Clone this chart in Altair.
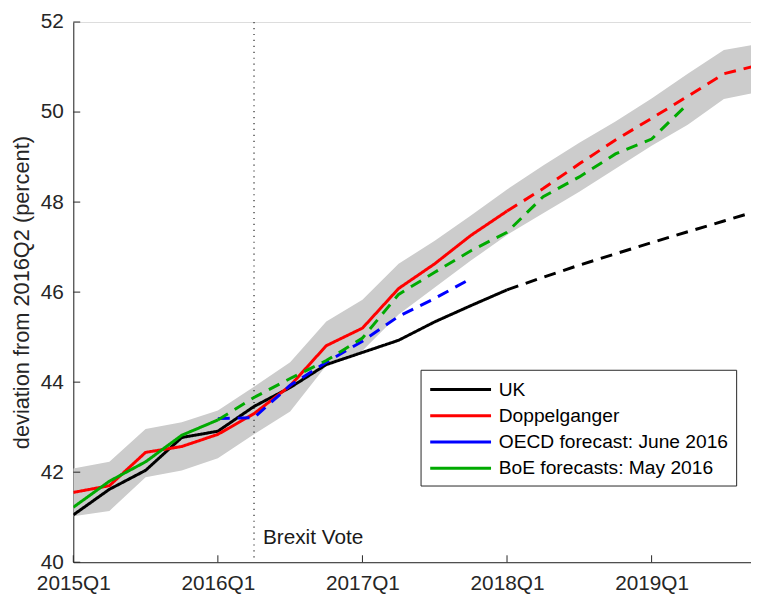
import altair as alt
import pandas as pd

FONT = "Liberation Sans"
AXIS_COLOR = "#262626"

# quarter index: 0 = 2015Q1, 1 = 2015Q2, ...
tick_values = [0, 4, 8, 12, 16]
tick_labels = ["2015Q1", "2016Q1", "2017Q1", "2018Q1", "2019Q1"]
y_ticks = [40, 42, 44, 46, 48, 50, 52]
brexit_q = 5  # 2016Q2

series_names = ["UK", "Doppelganger", "OECD forecast: June 2016", "BoE forecasts: May 2016"]
series_colors = ["#000000", "#ff0000", "#0000ff", "#00aa00"]

# UK: actual (2015Q1..2018Q1) and projection (2018Q1..2019Q4)
uk_actual = [41.05, 41.62, 42.04, 42.77, 42.91, 43.46, 43.88, 44.39, 44.66, 44.93, 45.34, 45.70, 46.05]
uk_proj = [46.05, 46.33, 46.60, 46.85, 47.10, 47.34, 47.58, 47.82]
# Doppelganger
dop_actual = [41.55, 41.70, 42.44, 42.57, 42.84, 43.30, 43.92, 44.81, 45.20, 46.08, 46.63, 47.26, 47.80]
dop_proj = [47.80, 48.30, 48.85, 49.38, 49.86, 50.35, 50.85, 51.05]
# OECD forecast (from 2016Q1)
oecd_fc = [43.19, 43.21, 43.93, 44.44, 44.91, 45.46, 45.86, 46.30]
# BoE: actual to 2016Q1, forecast from 2016Q1 to 2019Q2
boe_actual = [41.22, 41.80, 42.23, 42.82, 43.16]
boe_fc = [43.16, 43.66, 44.08, 44.48, 44.98, 45.95, 46.44, 46.92, 47.33, 48.12, 48.56, 49.07, 49.40, 50.18]

# Confidence band around the doppelganger
band_lo = [41.02, 41.14, 41.89, 42.04, 42.31, 42.84, 43.35, 44.37, 44.70, 45.50,
           46.10, 46.70, 47.27, 47.75, 48.23, 48.74, 49.25, 49.72, 50.29, 50.45]
band_hi = [42.08, 42.23, 42.96, 43.11, 43.37, 43.90, 44.44, 45.35, 45.83, 46.63,
           47.14, 47.70, 48.28, 48.81, 49.32, 49.79, 50.30, 50.85, 51.38, 51.52]

rows = []


def add(name, kind, start, values):
    for k, v in enumerate(values):
        rows.append({"series": name, "kind": kind, "q": start + k, "value": v})


add("UK", "actual", 0, uk_actual)
add("UK", "forecast", 12, uk_proj)
add("Doppelganger", "actual", 0, dop_actual)
add("Doppelganger", "forecast", 12, dop_proj)
add("OECD forecast: June 2016", "forecast", 4, oecd_fc)
add("BoE forecasts: May 2016", "actual", 0, boe_actual)
add("BoE forecasts: May 2016", "forecast", 4, boe_fc)
lines_df = pd.DataFrame(rows)

band_df = pd.DataFrame({"q": list(range(len(band_lo))), "lo": band_lo, "hi": band_hi})

W, H = 685, 546
xscale = alt.Scale(domain=[0, 18.75], nice=False, zero=False)
yscale = alt.Scale(domain=[40, 52], nice=False, zero=False)

label_expr = "[" + ",".join("'%s'" % t for t in tick_labels) + "][round(datum.value/4)]"

xaxis = alt.Axis(values=tick_values, labelExpr=label_expr, ticks=False, tickSize=0,
                 labelPadding=11, labelFontSize=21, labelFont=FONT, labelColor=AXIS_COLOR,
                 labelFlush=False, labelOverlap=False, grid=False, title=None,
                 domainColor=AXIS_COLOR, domainWidth=1)
yaxis = alt.Axis(values=y_ticks, ticks=False, tickSize=0, labelPadding=10, labelFontSize=21,
                 labelFont=FONT, labelColor=AXIS_COLOR, grid=False,
                 title="deviation from 2016Q2 (percent)", titleFont=FONT, titleFontSize=22,
                 titleFontWeight="normal", titleColor=AXIS_COLOR, titlePadding=7,
                 domainColor=AXIS_COLOR, domainWidth=1)

band = alt.Chart(band_df).mark_area(color="#cccccc", clip=True).encode(
    x=alt.X("q:Q", scale=xscale, axis=xaxis),
    y=alt.Y("lo:Q", scale=yscale, axis=yaxis),
    y2="hi:Q",
)

vline = alt.Chart(pd.DataFrame({"q": [brexit_q]})).mark_rule(
    color=AXIS_COLOR, strokeDash=[1.2, 4.8], strokeWidth=1.2
).encode(x=alt.X("q:Q", scale=xscale))

lines = alt.Chart(lines_df).mark_line(strokeWidth=3, clip=True).encode(
    x=alt.X("q:Q", scale=xscale),
    y=alt.Y("value:Q", scale=yscale),
    color=alt.Color(
        "series:N",
        scale=alt.Scale(domain=series_names, range=series_colors),
        sort=series_names,
        legend=alt.Legend(
            title=None, orient="none", legendX=351, legendY=351.5, direction="vertical",
            symbolType="M-1,0H5", symbolSize=420, symbolStrokeWidth=3,
            labelFontSize=19.4, labelFont=FONT, labelColor="#000000", labelLimit=500,
            labelOffset=47, padding=8, rowPadding=4.5,
            strokeColor=AXIS_COLOR, fillColor="#ffffff",
        ),
    ),
    strokeDash=alt.StrokeDash(
        "kind:N",
        scale=alt.Scale(domain=["actual", "forecast"], range=[[1, 0], [12, 8]]),
        legend=None,
    ),
    order=alt.Order("q:Q"),
)

brexit_text = alt.Chart(pd.DataFrame({"q": [brexit_q], "y": [40.4], "label": ["Brexit Vote"]})).mark_text(
    align="left", baseline="alphabetic", dx=9, fontSize=21, font=FONT, color="#1a1a1a"
).encode(x=alt.X("q:Q", scale=xscale), y=alt.Y("y:Q", scale=yscale), text="label:N")

xticks = alt.Chart(pd.DataFrame({"q": tick_values})).mark_rule(color=AXIS_COLOR, strokeWidth=1).encode(
    x=alt.X("q:Q", scale=xscale), y=alt.value(H), y2=alt.value(H - 7)
)
yticks = alt.Chart(pd.DataFrame({"v": y_ticks})).mark_rule(color=AXIS_COLOR, strokeWidth=1).encode(
    y=alt.Y("v:Q", scale=yscale), x=alt.value(0), x2=alt.value(7)
)

chart = alt.layer(band, vline, lines, brexit_text, xticks, yticks).properties(
    width=W, height=H,
    autosize=alt.AutoSizeParams(type="none"),
    padding={"left": 66, "top": 11, "right": 0, "bottom": 33},
).configure_view(stroke=None).configure(background="white")

chart.save("out.html", embed_options={"renderer": "svg", "actions": False})
